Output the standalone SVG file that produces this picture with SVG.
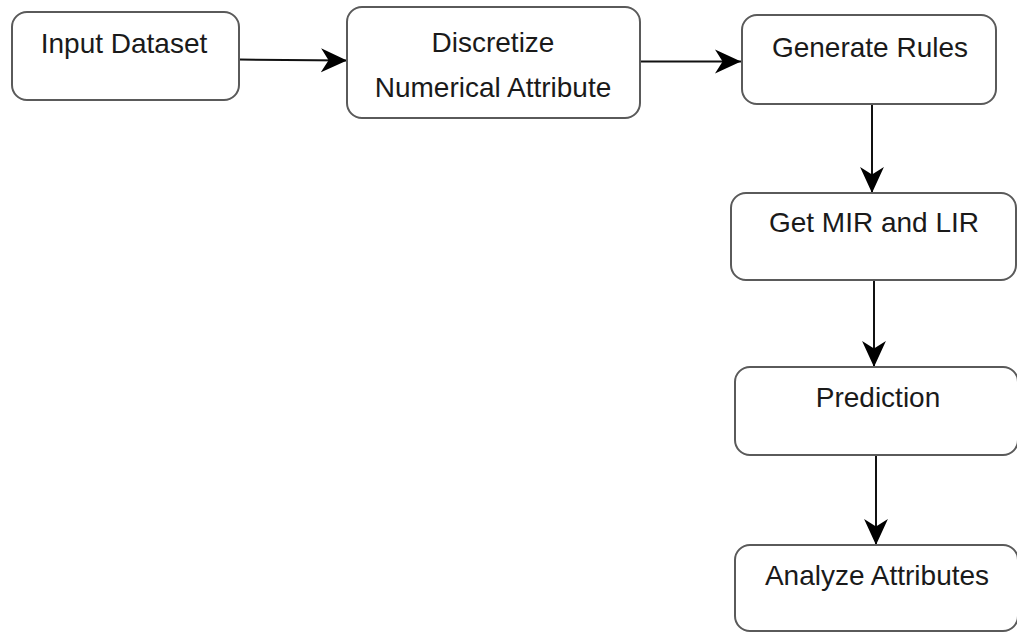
<svg xmlns="http://www.w3.org/2000/svg" width="1017" height="632" viewBox="0 0 1017 632">
<style>
.box{fill:#fff;stroke:#5a5a5a;stroke-width:2}
.lbl{font-family:"Liberation Sans",Arial,sans-serif;font-size:28px;fill:#1a1a1a;text-anchor:middle}
.edge{stroke:#111;stroke-width:2;fill:none}
</style>
<defs>
<marker id="arr" markerUnits="userSpaceOnUse" markerWidth="26" markerHeight="26" viewBox="0 0 24 24" refX="24" refY="12" orient="auto">
<path d="M0,1 L24,12 L0,23 L7,12 Z" fill="#000"/>
</marker>
</defs>
<rect width="1017" height="632" fill="#fff"/>
<g id="connectors">
<path class="edge" d="M239,59.5 L347,60.5" marker-end="url(#arr)"/>
<path class="edge" d="M640,61.5 L741,61.5" marker-end="url(#arr)"/>
<path class="edge" d="M872,104 L872,193" marker-end="url(#arr)"/>
<path class="edge" d="M874,280 L874,367" marker-end="url(#arr)"/>
<path class="edge" d="M876,455 L876,545" marker-end="url(#arr)"/>
</g>
<g id="n1">
<rect class="box" x="12" y="12" width="227" height="88" rx="15"/>
<text class="lbl" x="124" y="53">Input Dataset</text>
</g>
<g id="n2">
<rect class="box" x="347" y="7" width="293" height="111" rx="15"/>
<text class="lbl" x="493" y="52">Discretize</text>
<text class="lbl" x="493" y="97">Numerical Attribute</text>
</g>
<g id="n3">
<rect class="box" x="742" y="15" width="254" height="89" rx="15"/>
<text class="lbl" x="870" y="57">Generate Rules</text>
</g>
<g id="n4">
<rect class="box" x="731" y="193" width="285" height="87" rx="15"/>
<text class="lbl" x="874" y="232">Get MIR and LIR</text>
</g>
<g id="n5">
<rect class="box" x="735" y="367" width="283" height="88" rx="15"/>
<text class="lbl" x="878" y="407">Prediction</text>
</g>
<g id="n6">
<rect class="box" x="735" y="545" width="283" height="86" rx="15"/>
<text class="lbl" x="877" y="585">Analyze Attributes</text>
</g>
</svg>
